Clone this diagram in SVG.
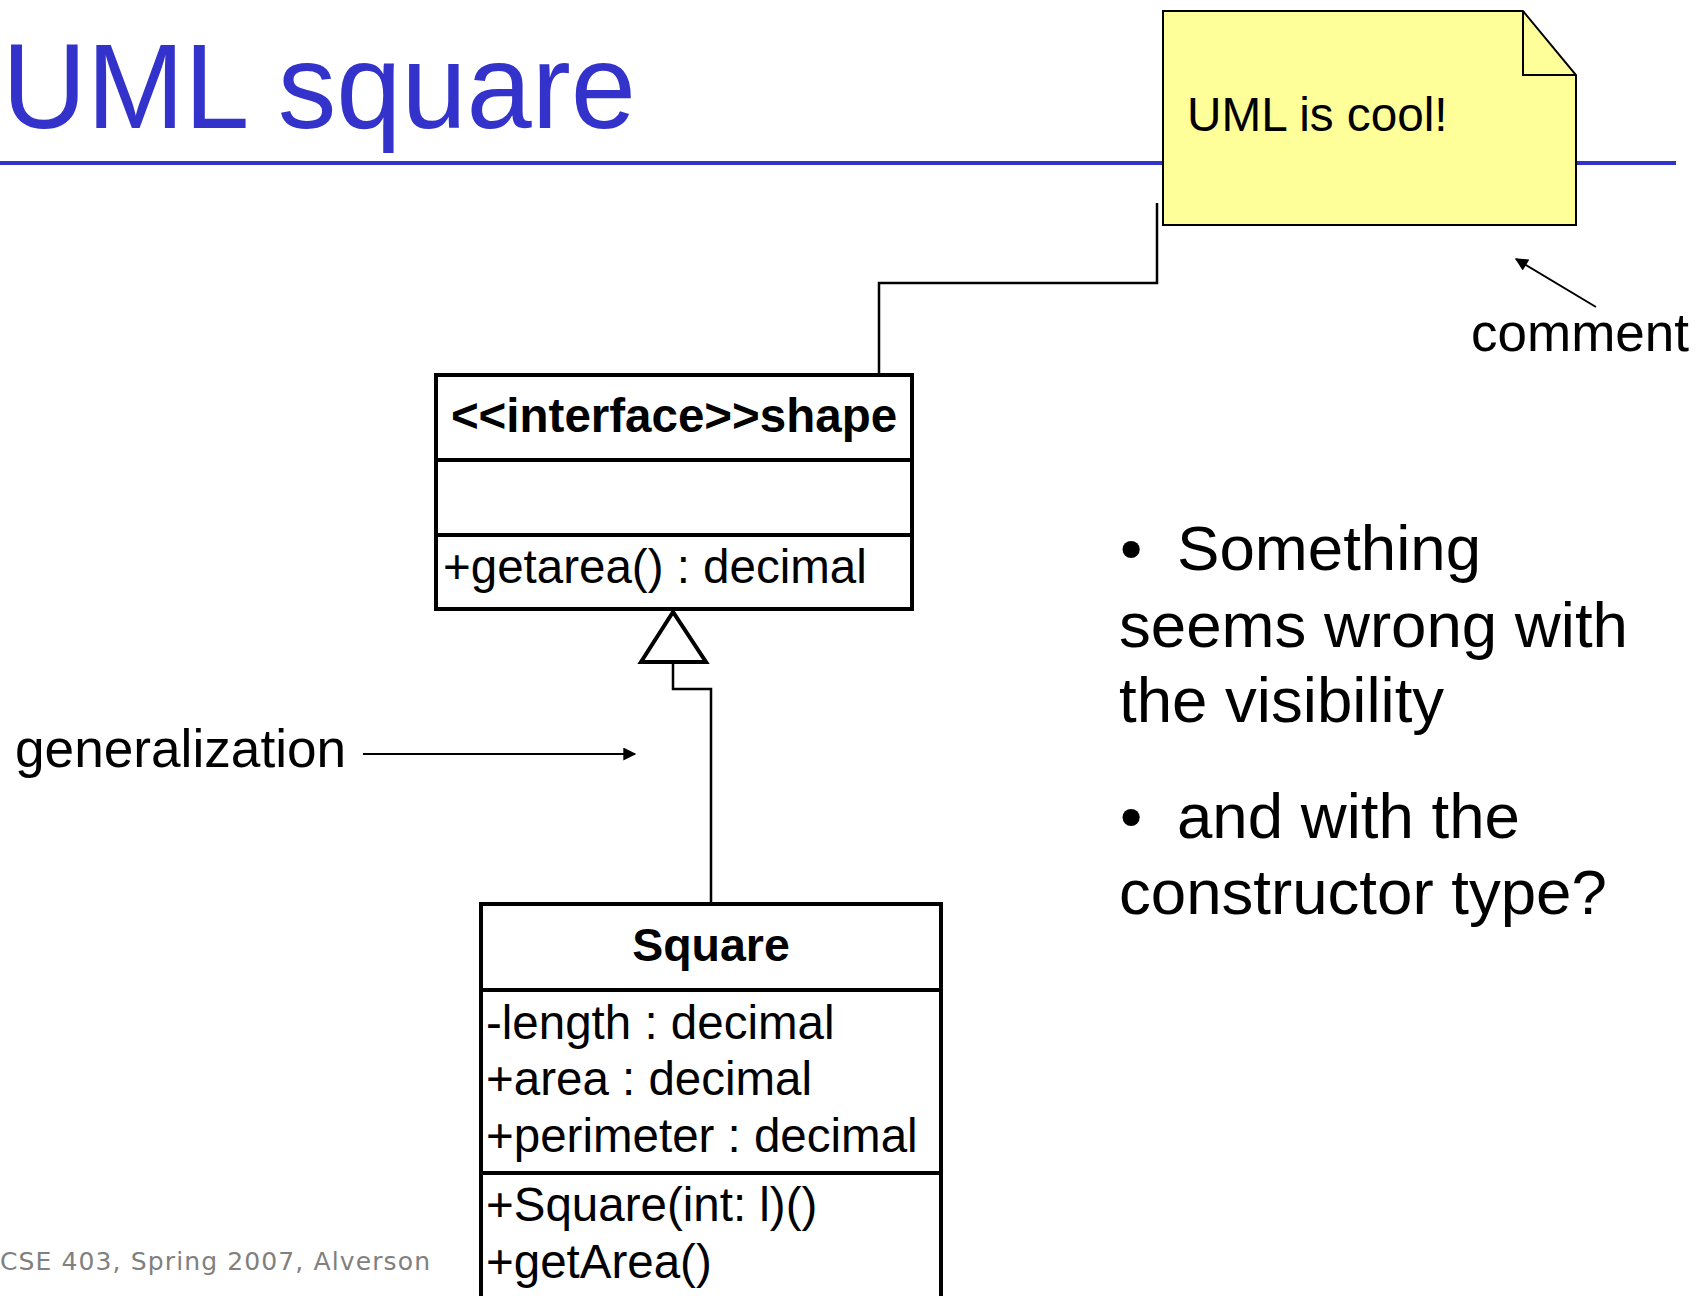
<svg xmlns="http://www.w3.org/2000/svg" width="1702" height="1296" viewBox="0 0 1702 1296">
  <style>
    .sans { font-family: "Liberation Sans", Arial, sans-serif; fill: #000; }
    .member { font-size: 47.5px; }
    .cls { fill: #fff; stroke: #000; stroke-width: 4; }
    .div { stroke: #000; stroke-width: 4; }
    .wire { fill: none; stroke: #000; stroke-width: 2.5; }
    .bullet { font-size: 63.6px; }
  </style>
  <defs>
    <marker id="arrowS" viewBox="0 0 10 10" refX="9" refY="5" markerWidth="17" markerHeight="13" markerUnits="userSpaceOnUse" orient="auto">
      <path d="M0,0 L10,5 L0,10 z" fill="#000"/>
    </marker>
  </defs>

  <rect width="1702" height="1296" fill="#fff"/>

  <!-- slide title and rule -->
  <text x="2" y="128" class="sans" font-size="121" style="fill:#3333CC" textLength="634" lengthAdjust="spacingAndGlyphs">UML square</text>
  <rect x="0" y="161" width="1676" height="4" fill="#3333CC"/>

  <!-- connectors -->
  <g id="connectors">
    <polyline class="wire" points="1157,203 1157,283 879,283 879,374"/>
    <polyline class="wire" points="673,662 673,689 711,689 711,903"/>
    <polygon points="673,612 641,662 706,662" fill="#fff" stroke="#000" stroke-width="4" stroke-linejoin="miter"/>
    <line x1="363" y1="754" x2="635" y2="754" stroke="#000" stroke-width="2" marker-end="url(#arrowS)"/>
    <line x1="1596" y1="307" x2="1516" y2="259" stroke="#000" stroke-width="2" marker-end="url(#arrowS)"/>
  </g>

  <!-- note -->
  <g id="note">
    <path d="M1163,11 L1523,11 L1576,75 L1576,225 L1163,225 Z" fill="#FFFF99" stroke="#000" stroke-width="2"/>
    <path d="M1523,11 L1523,75 L1576,75" fill="none" stroke="#000" stroke-width="2"/>
    <text x="1187" y="131" class="sans" font-size="47.7">UML is cool!</text>
  </g>

  <!-- interface class -->
  <g id="shape">
    <rect x="436" y="375" width="476" height="234" class="cls"/>
    <line x1="436" y1="460" x2="912" y2="460" class="div"/>
    <line x1="436" y1="535" x2="912" y2="535" class="div"/>
    <text x="674" y="432" class="sans" font-size="47.5" font-weight="bold" text-anchor="middle">&lt;&lt;interface&gt;&gt;shape</text>
    <text x="443" y="583" class="sans member">+getarea() : decimal</text>
  </g>

  <!-- Square class -->
  <g id="square">
    <rect x="481" y="904" width="460" height="420" class="cls"/>
    <line x1="481" y1="990" x2="941" y2="990" class="div"/>
    <line x1="481" y1="1173" x2="941" y2="1173" class="div"/>
    <text x="711" y="961" class="sans" font-size="46.5" font-weight="bold" text-anchor="middle">Square</text>
    <text x="486" y="1039" class="sans member">-length : decimal</text>
    <text x="486" y="1095" class="sans member">+area : decimal</text>
    <text x="486" y="1152" class="sans member">+perimeter : decimal</text>
    <text x="486" y="1221" class="sans member">+Square(int: l)()</text>
    <text x="486" y="1278" class="sans member">+getArea()</text>
  </g>

  <!-- labels -->
  <g id="labels">
    <text x="15" y="767" class="sans" font-size="53.2">generalization</text>
    <text x="1471" y="351" class="sans" font-size="53">comment</text>
  </g>

  <!-- bullet text -->
  <g id="bullets" class="sans bullet">
    <text x="1120" y="570">•</text>
    <text x="1177" y="570">Something</text>
    <text x="1119" y="647">seems wrong with</text>
    <text x="1119" y="722">the visibility</text>
    <text x="1120" y="838">•</text>
    <text x="1177" y="838">and with the</text>
    <text x="1119" y="914">constructor type?</text>
  </g>

  <!-- footer -->
  <text x="0" y="1270" font-family="'DejaVu Sans', Verdana, sans-serif" font-size="25" fill="#808080" textLength="430" lengthAdjust="spacing">CSE 403, Spring 2007, Alverson</text>
</svg>
